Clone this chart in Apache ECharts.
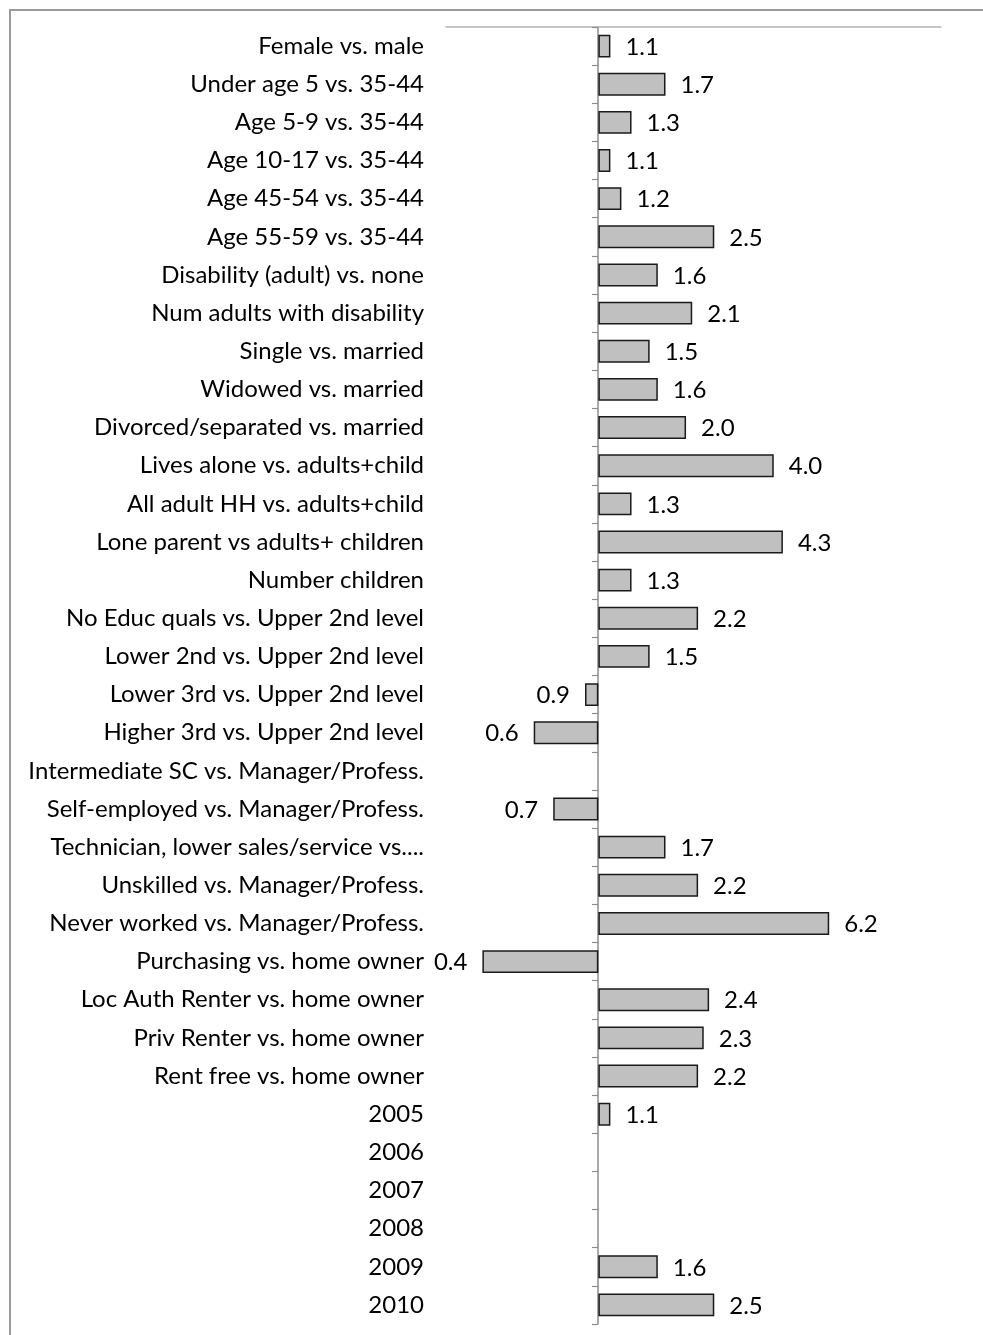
<!DOCTYPE html>
<html>
<head>
<meta charset="utf-8">
<title>Odds ratios</title>
<script src="https://cdn.jsdelivr.net/npm/echarts@6/dist/echarts.min.js"></script>
<style>
  html, body { margin: 0; padding: 0; background: #fff; }
  #chart { width: 983px; height: 1335px; }
</style>
</head>
<body>
<div id="chart"></div>
<script>
// Predictor categories, top to bottom
const categories = [
  'Female vs. male',
  'Under age 5 vs. 35-44',
  'Age 5-9 vs. 35-44',
  'Age 10-17 vs. 35-44',
  'Age 45-54 vs. 35-44',
  'Age 55-59 vs. 35-44',
  'Disability (adult) vs. none',
  'Num adults with disability',
  'Single vs. married',
  'Widowed vs. married',
  'Divorced/separated vs. married',
  'Lives alone vs. adults+child',
  'All adult HH vs. adults+child',
  'Lone parent vs adults+ children',
  'Number children',
  'No Educ quals vs. Upper 2nd level',
  'Lower 2nd vs. Upper 2nd level',
  'Lower 3rd vs. Upper 2nd level',
  'Higher 3rd vs. Upper 2nd level',
  'Intermediate SC vs. Manager/Profess.',
  'Self-employed vs. Manager/Profess.',
  'Technician, lower sales/service vs....',
  'Unskilled vs. Manager/Profess.',
  'Never worked vs. Manager/Profess.',
  'Purchasing vs. home owner',
  'Loc Auth Renter vs. home owner',
  'Priv Renter vs. home owner',
  'Rent free vs. home owner',
  '2005',
  '2006',
  '2007',
  '2008',
  '2009',
  '2010'
];

// Odds ratios (null = no estimate shown)
const oddsRatios = [
  1.1, 1.7, 1.3, 1.1, 1.2, 2.5, 1.6, 2.1, 1.5, 1.6,
  2.0, 4.0, 1.3, 4.3, 1.3, 2.2, 1.5, 0.9, 0.6, null,
  0.7, 1.7, 2.2, 6.2, 0.4, 2.4, 2.3, 2.2, 1.1, null,
  null, null, 1.6, 2.5
];

// Log-scale extent of the ratio axis
const ratioMin = 0.3;
const ratioMax = 15;

const FONT = 'Lato, "Open Sans", sans-serif';

const barData = oddsRatios.map(v => {
  if (v == null) return null;
  return {
    value: v,
    label: { position: v < 1 ? 'left' : 'right' }
  };
});

const chart = echarts.init(document.getElementById('chart'), null, { renderer: 'canvas' });

const GRID_LEFT = 446;
const AXIS_AT_ONE = 598;

chart.setOption({
  backgroundColor: '#ffffff',
  animation: false,
  graphic: [
    {
      type: 'polyline',
      shape: { points: [[10, 1335], [10, 10], [983, 10]] },
      style: { stroke: '#9a9a9a', lineWidth: 2, fill: null },
      silent: true
    }
  ],
  grid: { left: GRID_LEFT, right: 42, top: 27, bottom: 11 },
  xAxis: {
    type: 'log',
    position: 'top',
    min: ratioMin,
    max: ratioMax,
    axisLine: { show: true, lineStyle: { color: '#b4b4b4', width: 1.5 } },
    axisTick: { show: false },
    axisLabel: { show: false },
    splitLine: { show: false },
    minorTick: { show: false },
    minorSplitLine: { show: false }
  },
  yAxis: [
    {
      type: 'category',
      data: categories,
      inverse: true,
      position: 'left',
      axisLine: { show: false },
      axisTick: { show: false },
      axisLabel: {
        margin: 22,
        fontFamily: FONT,
        fontSize: 24,
        color: '#000'
      }
    },
    {
      type: 'category',
      data: categories,
      inverse: true,
      position: 'left',
      offset: -(AXIS_AT_ONE - GRID_LEFT),
      axisLine: { show: true, lineStyle: { color: '#8c8c8c', width: 1.5 } },
      axisTick: { show: true, length: 6, lineStyle: { color: '#8c8c8c', width: 1.2 } },
      axisLabel: { show: false }
    }
  ],
  series: [
    {
      type: 'bar',
      yAxisIndex: 0,
      data: barData,
      barWidth: '60%',
      itemStyle: {
        color: '#c0c0c0',
        borderColor: '#1a1a1a',
        borderWidth: 1.5
      },
      label: {
        show: true,
        distance: 15,
        offset: [0, 1],
        fontFamily: FONT,
        fontSize: 24,
        color: '#000',
        formatter: p => p.value.toFixed(1)
      }
    }
  ]
});
</script>
</body>
</html>
